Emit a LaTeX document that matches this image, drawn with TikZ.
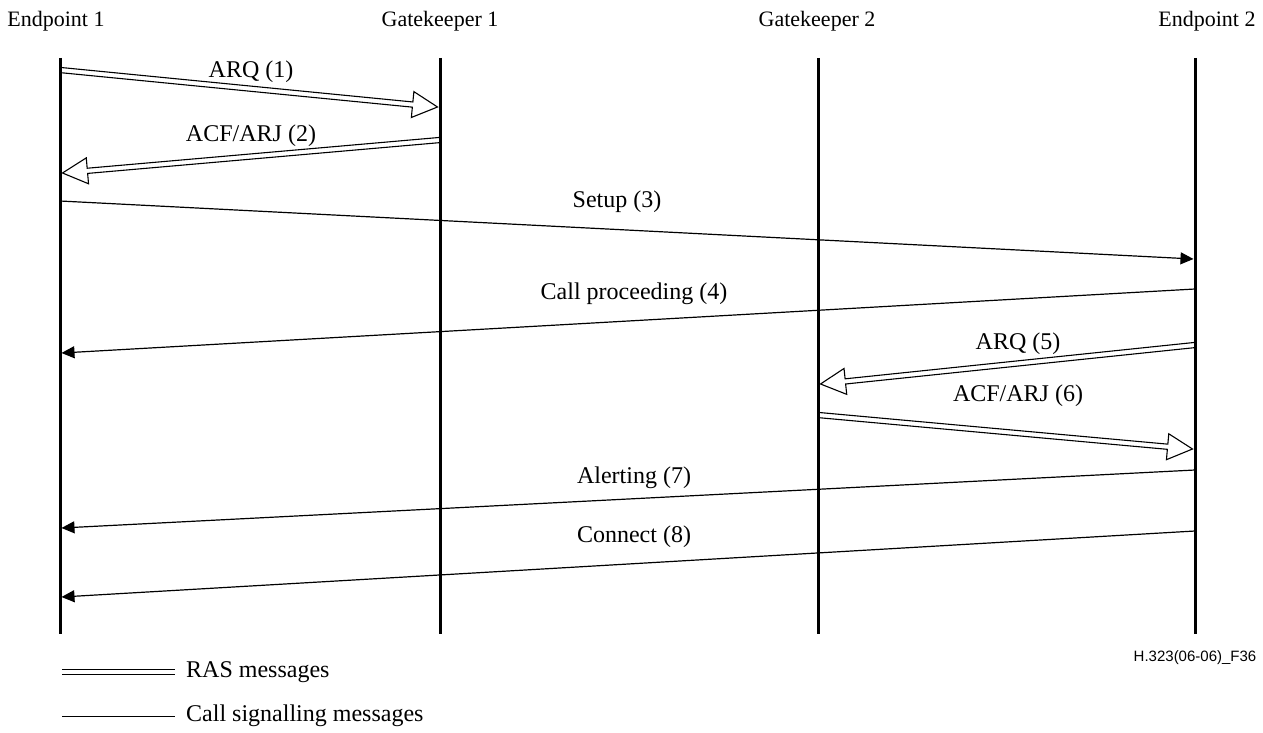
\documentclass[tikz,border=0pt]{standalone}
\usepackage{fontspec}
\setmainfont{Liberation Serif}
\newfontfamily\arialfont{Liberation Sans}
\usetikzlibrary{arrows.meta,calc}
\newcommand\rasarrow[2]{%
  \draw[ras] let \p1=(#1), \p2=(#2), \n1={atan2(\y2-\y1,\x2-\x1)} in
    (\p2)
    -- ($(\p2)+(\n1+180:25pt)+(\n1+90:13pt)$)
    -- ($(\p2)+(\n1+180:25pt)+(\n1+90:2.6pt)$)
    -- ($(\p1)+(\n1+90:2.6pt)$)
    -- ($(\p1)+(\n1-90:2.6pt)$)
    -- ($(\p2)+(\n1+180:25pt)+(\n1-90:2.6pt)$)
    -- ($(\p2)+(\n1+180:25pt)+(\n1-90:13pt)$)
    -- cycle;}
\begin{document}
\begin{tikzpicture}[x=1pt,y=-1pt,
  head/.style={font=\fontsize{22}{26}\selectfont, anchor=base, inner sep=0pt},
  lbl/.style={font=\fontsize{24}{28}\selectfont, inner sep=0pt},
  life/.style={line width=3pt},
  call/.style={line width=1.2pt, -{Triangle[length=13pt,width=12pt]}},
  ras/.style={line width=1.1pt, fill=white, line join=miter},
  legras/.style={double, double distance=3.4pt, line width=0.9pt},
  legcall/.style={line width=1pt}]
\useasboundingbox (0,0) rectangle (1263,733);

% headers
\node[head] (hE1) at (56,27) {Endpoint 1};
\node[head] (hG1) at (440,27) {Gatekeeper 1};
\node[head] (hG2) at (817,27) {Gatekeeper 2};
\node[head] (hE2) at (1207,27) {Endpoint 2};

% lifeline coordinates
\coordinate (E1t) at (60,58);   \coordinate (E1b) at (60,634);
\coordinate (G1t) at (440,58);  \coordinate (G1b) at (440,634);
\coordinate (G2t) at (818,58);  \coordinate (G2b) at (818,634);
\coordinate (E2t) at (1195,58); \coordinate (E2b) at (1195,634);

% message end points
\coordinate (m1a) at (60,70);     \coordinate (m1b) at (437.5,107);
\coordinate (m2a) at (440,140);   \coordinate (m2b) at (62.5,173);
\coordinate (m3a) at (60,201);    \coordinate (m3b) at (1193.5,259);
\coordinate (m4a) at (1195,289);  \coordinate (m4b) at (61.5,353);
\coordinate (m5a) at (1195,345);  \coordinate (m5b) at (820.5,384);
\coordinate (m6a) at (818,415);   \coordinate (m6b) at (1192.5,449);
\coordinate (m7a) at (1195,470);  \coordinate (m7b) at (61.5,528);
\coordinate (m8a) at (1195,531);  \coordinate (m8b) at (61.5,597);

% RAS messages
\rasarrow{m1a}{m1b}
\rasarrow{m2a}{m2b}
\rasarrow{m5a}{m5b}
\rasarrow{m6a}{m6b}

% call signalling messages
\draw[call] (m3a) -- (m3b);
\draw[call] (m4a) -- (m4b);
\draw[call] (m7a) -- (m7b);
\draw[call] (m8a) -- (m8b);

% labels
\node[lbl] (l1) at (251,72) {ARQ (1)};
\node[lbl] (l2) at (251,136) {ACF/ARJ (2)};
\node[lbl] (l3) at (617,202) {Setup (3)};
\node[lbl] (l4) at (634,294) {Call proceeding (4)};
\node[lbl] (l5) at (1018,344) {ARQ (5)};
\node[lbl] (l6) at (1018,396) {ACF/ARJ (6)};
\node[lbl] (l7) at (634,478) {Alerting (7)};
\node[lbl] (l8) at (634,537) {Connect (8)};

% lifelines
\draw[life] (E1t) -- (E1b);
\draw[life] (G1t) -- (G1b);
\draw[life] (G2t) -- (G2b);
\draw[life] (E2t) -- (E2b);

% figure id
\node[font=\arialfont\fontsize{15}{18}\selectfont, inner sep=0pt] (fid) at (1195,658) {H.323(06-06)\_F36};

% legend
\coordinate (lra) at (62,672); \coordinate (lrb) at (175,672);
\coordinate (lca) at (62,716); \coordinate (lcb) at (175,716);
\draw[legras] (lra) -- (lrb);
\draw[legcall] (lca) -- (lcb);
\node[lbl, anchor=west] (lrt) at (186,672) {RAS messages};
\node[lbl, anchor=west] (lct) at (186,716) {Call signalling messages};
\end{tikzpicture}
\end{document}
